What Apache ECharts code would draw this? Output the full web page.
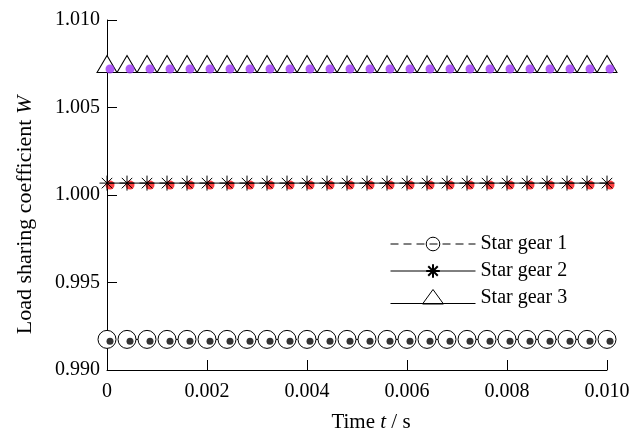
<!DOCTYPE html>
<html>
<head>
<meta charset="utf-8">
<script src="https://cdn.jsdelivr.net/npm/echarts@6/dist/echarts.min.js"></script>
<style>
  html, body { margin: 0; padding: 0; background: #fff; }
  #chart { width: 635px; height: 438px; }
</style>
</head>
<body>
<div id="chart"></div>
<script>
// sample times (s)
const times = [0, 0.0004, 0.0008, 0.0012, 0.0016, 0.002, 0.0024, 0.0028, 0.0032, 0.0036,
  0.004, 0.0044, 0.0048, 0.0052, 0.0056, 0.006, 0.0064, 0.0068, 0.0072, 0.0076,
  0.008, 0.0084, 0.0088, 0.0092, 0.0096, 0.010]

// load sharing coefficient, line series
const gear1 = [0.99175, 0.99175, 0.99175, 0.99175, 0.99175, 0.99175, 0.99175, 0.99175, 0.99175, 0.99175,
  0.99175, 0.99175, 0.99175, 0.99175, 0.99175, 0.99175, 0.99175, 0.99175, 0.99175, 0.99175,
  0.99175, 0.99175, 0.99175, 0.99175, 0.99175, 0.99175]
const gear2 = [1.00068, 1.00068, 1.00068, 1.00068, 1.00068, 1.00068, 1.00068, 1.00068, 1.00068, 1.00068,
  1.00068, 1.00068, 1.00068, 1.00068, 1.00068, 1.00068, 1.00068, 1.00068, 1.00068, 1.00068,
  1.00068, 1.00068, 1.00068, 1.00068, 1.00068, 1.00068]
const gear3 = [1.00703, 1.00703, 1.00703, 1.00703, 1.00703, 1.00703, 1.00703, 1.00703, 1.00703, 1.00703,
  1.00703, 1.00703, 1.00703, 1.00703, 1.00703, 1.00703, 1.00703, 1.00703, 1.00703, 1.00703,
  1.00703, 1.00703, 1.00703, 1.00703, 1.00703, 1.00703]

// overlaid dot series (second data set)
const dots1 = [0.99165, 0.99165, 0.99165, 0.99165, 0.99165, 0.99165, 0.99165, 0.99165, 0.99165, 0.99165,
  0.99165, 0.99165, 0.99165, 0.99165, 0.99165, 0.99165, 0.99165, 0.99165, 0.99165, 0.99165,
  0.99165, 0.99165, 0.99165, 0.99165, 0.99165, 0.99165]
const dots2 = [1.00057, 1.00057, 1.00057, 1.00057, 1.00057, 1.00057, 1.00057, 1.00057, 1.00057, 1.00057,
  1.00057, 1.00057, 1.00057, 1.00057, 1.00057, 1.00057, 1.00057, 1.00057, 1.00057, 1.00057,
  1.00057, 1.00057, 1.00057, 1.00057, 1.00057, 1.00057]
const dots3 = [1.0072, 1.0072, 1.0072, 1.0072, 1.0072, 1.0072, 1.0072, 1.0072, 1.0072, 1.0072,
  1.0072, 1.0072, 1.0072, 1.0072, 1.0072, 1.0072, 1.0072, 1.0072, 1.0072, 1.0072,
  1.0072, 1.0072, 1.0072, 1.0072, 1.0072, 1.0072]

const names = ['Star gear 1', 'Star gear 2', 'Star gear 3']

const font = 'Liberation Serif'
const pair = (ys) => times.map((t, i) => [t, ys[i]])
const star = 'path://M10,0L10,20M0,10L20,10M3,3L17,17M3,17L17,3'
const hollow = { color: 'rgba(255,255,255,0)', borderColor: '#000', borderWidth: 1 }

var myChart = echarts.init(document.getElementById('chart'))
const option = {
    animation: false,
    textStyle: { fontFamily: font, color: '#000' },
    grid: {
        left: 107,
        right: 28,
        top: 20,
        bottom: 64
    },
    legend: {
        data: [
            { name: names[0], itemStyle: hollow },
            { name: names[1] },
            {
                name: names[2],
                // key line runs along the triangle's base; last move pads the box
                icon: 'path://M0,14L85,14M32,14.5L42.5,0L53,14.5ZM85,17L85,17',
                itemStyle: hollow
            }
        ],
        orient: 'vertical',
        left: 385,
        top: 229,
        itemWidth: 85,
        itemHeight: 17,
        itemGap: 7,
        lineStyle: { width: 1 },
        textStyle: { fontFamily: font, fontSize: 20, color: '#000' }
    },
    xAxis: {
        type: 'value',
        min: 0,
        max: 0.010,
        interval: 0.002,
        name: 'Time {i|t} / s',
        nameLocation: 'middle',
        nameGap: 42,
        nameTextStyle: {
            fontFamily: font, fontSize: 21, color: '#000',
            padding: [0, 0, 0, 28],
            rich: { i: { fontFamily: font, fontSize: 21, fontStyle: 'italic', color: '#000' } }
        },
        splitLine: { show: false },
        axisLine: { lineStyle: { color: '#000', width: 1 } },
        axisTick: { inside: true, length: 10, lineStyle: { color: '#000' } },
        axisLabel: {
            fontFamily: font, fontSize: 20, color: '#000', margin: 12,
            formatter: (v) => v === 0 ? '0' : v.toFixed(3)
        }
    },
    yAxis: {
        type: 'value',
        min: 0.990,
        max: 1.010,
        interval: 0.005,
        name: 'Load sharing coefficient {i|W}',
        nameLocation: 'middle',
        nameGap: 71,
        nameTextStyle: {
            fontFamily: font, fontSize: 22, color: '#000',
            padding: [0, 40, 0, 0],
            rich: { i: { fontFamily: font, fontSize: 22, fontStyle: 'italic', color: '#000' } }
        },
        splitLine: { show: false },
        axisLine: { show: true, lineStyle: { color: '#000', width: 1 } },
        axisTick: { show: true, inside: true, length: 10, lineStyle: { color: '#000' } },
        axisLabel: {
            fontFamily: font, fontSize: 20, color: '#000', margin: 7,
            formatter: (v) => v.toFixed(3)
        }
    },
    series: [
        {
            name: names[0],
            type: 'line',
            data: pair(gear1),
            symbol: 'circle',
            symbolSize: 18,
            showAllSymbol: true,
            lineStyle: { color: '#000', width: 1, type: [8, 5] },
            itemStyle: { color: '#fff', borderColor: '#000', borderWidth: 1 }
        },
        {
            name: names[1],
            type: 'line',
            data: pair(gear2),
            symbol: star,
            symbolSize: 15,
            showAllSymbol: true,
            lineStyle: { color: '#000', width: 1 },
            itemStyle: hollow,
            z: 6
        },
        {
            name: names[2],
            type: 'line',
            data: pair(gear3),
            symbol: 'triangle',
            symbolSize: [20, 17],
            symbolOffset: [0, -8],
            showAllSymbol: true,
            lineStyle: { color: '#000', width: 1 },
            itemStyle: { color: '#fff', borderColor: '#000', borderWidth: 1 }
        },
        {
            type: 'scatter',
            data: pair(dots1),
            symbolSize: 7,
            symbolOffset: [3, 0],
            itemStyle: { color: '#000' },
            z: 5
        },
        {
            type: 'scatter',
            data: pair(dots2),
            symbolSize: 9,
            symbolOffset: [3, 0],
            itemStyle: { color: '#ff1010' },
            z: 5
        },
        {
            type: 'scatter',
            data: pair(dots3),
            symbolSize: 9,
            symbolOffset: [3, 0],
            itemStyle: { color: '#9b35f5' },
            z: 5
        }
    ]
}
myChart.setOption(option)
</script>
</body>
</html>
